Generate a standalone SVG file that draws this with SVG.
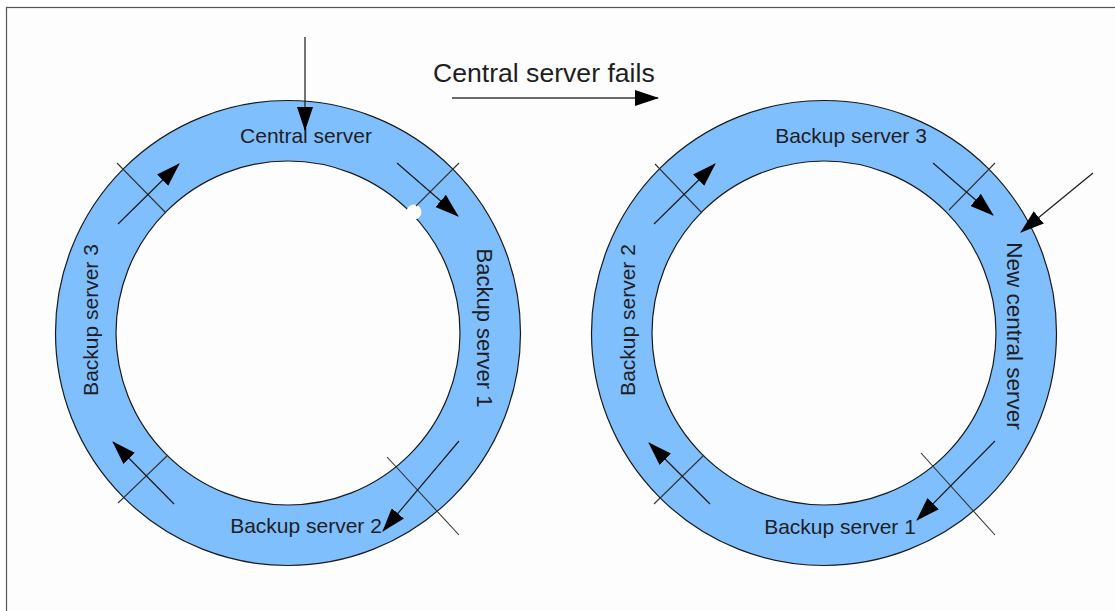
<svg xmlns="http://www.w3.org/2000/svg" width="1115" height="611" viewBox="0 0 1115 611">
  <style>
    .ring { fill: #7fbffd; stroke: #1a1a1a; stroke-width: 1.2; fill-rule: evenodd; }
    .lbl { font-family: "Liberation Sans", Arial, sans-serif; fill: #1e1e24; text-anchor: middle; }
    .flow { stroke: #1a1a1a; stroke-width: 1.2; fill: none; marker-end: url(#head); }
    .tick { stroke: #333; stroke-width: 1.1; fill: none; }
  </style>
  <defs>
    <marker id="head" viewBox="0 0 24 16" markerWidth="24" markerHeight="16" refX="23" refY="8" orient="auto" markerUnits="userSpaceOnUse">
      <path d="M0,0 L24,8 L0,16 z" fill="#000"/>
    </marker>
  </defs>

  <!-- page frame -->
  <rect x="0" y="0" width="1115" height="611" fill="#ffffff"/>
  <rect x="6.5" y="7.5" width="1200" height="700" fill="#fdfdfd" stroke="#555" stroke-width="1.2"/>

  <!-- ring before the failure -->
  <g id="ring-before">
    <path class="ring" d="M55.5,333 a232.5,232.5 0 1,0 465,0 a232.5,232.5 0 1,0 -465,0 z M116,333 a172,172 0 1,0 344,0 a172,172 0 1,0 -344,0 z"/>
    <circle cx="414" cy="212" r="7.5" fill="#fdfdfd"/>
  </g>

  <!-- ring after the failure -->
  <g id="ring-after">
    <path class="ring" d="M591.5,333 a232.5,232.5 0 1,0 465,0 a232.5,232.5 0 1,0 -465,0 z M652,333 a172,172 0 1,0 344,0 a172,172 0 1,0 -344,0 z"/>
  </g>

  <!-- server labels, ring before -->
  <g id="central-server"><text class="lbl" x="306" y="143" font-size="21">Central server</text></g>
  <g id="backup-1-before"><text class="lbl" transform="translate(477,328) rotate(90)" font-size="22">Backup server 1</text></g>
  <g id="backup-2-before"><text class="lbl" x="306" y="533" font-size="21">Backup server 2</text></g>
  <g id="backup-3-before"><text class="lbl" transform="translate(98,320) rotate(-90)" font-size="21">Backup server 3</text></g>

  <!-- server labels, ring after -->
  <g id="backup-3-after"><text class="lbl" x="851" y="143" font-size="21">Backup server 3</text></g>
  <g id="new-central-server"><text class="lbl" transform="translate(1007,336) rotate(90)" font-size="22.5">New central server</text></g>
  <g id="backup-1-after"><text class="lbl" x="840" y="534" font-size="21">Backup server 1</text></g>
  <g id="backup-2-after"><text class="lbl" transform="translate(635,320) rotate(-90)" font-size="21">Backup server 2</text></g>

  <!-- transition caption -->
  <g id="transition">
    <text x="433" y="82" font-family="Liberation Sans, Arial, sans-serif" font-size="26.6" fill="#1e1e24">Central server fails</text>
  </g>

  <!-- connectors: token flow arrows, segment ticks, entry arrows -->
  <g id="connectors">
    <line x1="452" y1="98" x2="658" y2="98" stroke="#6a6a6a" stroke-width="2" marker-end="url(#head)"/>

    <line class="flow" x1="305" y1="37" x2="305" y2="130"/>
    <line class="flow" x1="1093" y1="173" x2="1021" y2="232"/>

    <!-- ring before -->
    <line class="tick" x1="117" y1="163" x2="166" y2="213"/>
    <line class="flow" x1="118" y1="224" x2="179" y2="164"/>
    <line class="tick" x1="459" y1="163" x2="416" y2="206"/>
    <line class="flow" x1="397" y1="163" x2="458" y2="216"/>
    <line class="tick" x1="387" y1="457" x2="459" y2="535"/>
    <line class="flow" x1="459" y1="441" x2="383" y2="531"/>
    <line class="tick" x1="168" y1="455" x2="118" y2="503"/>
    <line class="flow" x1="174" y1="504" x2="113" y2="442"/>

    <!-- ring after -->
    <line class="tick" x1="655" y1="164" x2="702" y2="213"/>
    <line class="flow" x1="654" y1="224" x2="715" y2="164"/>
    <line class="tick" x1="995" y1="163" x2="949" y2="210"/>
    <line class="flow" x1="933" y1="163" x2="993" y2="215"/>
    <line class="tick" x1="921" y1="453" x2="995" y2="535"/>
    <line class="flow" x1="995" y1="441" x2="917" y2="520"/>
    <line class="tick" x1="704" y1="455" x2="654" y2="504"/>
    <line class="flow" x1="710" y1="504" x2="649" y2="443"/>
  </g>
</svg>
